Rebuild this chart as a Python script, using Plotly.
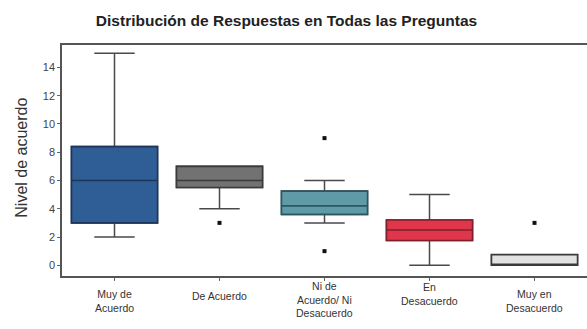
import plotly.graph_objects as go

# Response categories and precomputed box statistics
categories = ["Muy de Acuerdo", "De Acuerdo", "Ni de Acuerdo/ Ni Desacuerdo",
              "En Desacuerdo", "Muy en Desacuerdo"]
tick_text = ["Muy de<br>Acuerdo", "De Acuerdo", "Ni de<br>Acuerdo/ Ni<br>Desacuerdo",
             "En<br>Desacuerdo", "Muy en<br>Desacuerdo"]
lower_fence = [2, 4, 3, 0, 0]
q1 = [3, 5.5, 3.6, 1.75, 0]
median = [6, 6, 4.2, 2.5, 0]
q3 = [8.4, 7, 5.25, 3.2, 0.75]
upper_fence = [15, 7, 6, 5, 0.75]

# Outlying responses per category
outlier_cat = ["De Acuerdo", "Ni de Acuerdo/ Ni Desacuerdo",
               "Ni de Acuerdo/ Ni Desacuerdo", "Muy en Desacuerdo"]
outlier_val = [3, 9, 1, 3]

fill_colors = ["#2f5e96", "#727272", "#5e9ba7", "#e0364c", "#e2e2e2"]
line_colors = ["#1c3558", "#3a3a3a", "#2c5660", "#7e1f2a", "#3a3a3a"]
whisker_color = "#4a4a4a"

# Vertical centre (px from top) of each category label
label_y_px = [301, 296, 299, 294, 301]

W, H = 587, 329
L, R, T, B = 62, 0, 45, 53

fig = go.Figure()
for i, cat in enumerate(categories):
    # full box with whiskers in neutral grey
    fig.add_trace(go.Box(
        x=[cat], q1=[q1[i]], median=[median[i]], q3=[q3[i]],
        lowerfence=[lower_fence[i]], upperfence=[upper_fence[i]],
        boxpoints=False, width=0.82, whiskerwidth=0.47,
        fillcolor=fill_colors[i],
        line=dict(color=whisker_color, width=1.5),
        showlegend=False, hoverinfo="skip",
    ))
    # box body redrawn with its own darker outline and median
    fig.add_trace(go.Box(
        x=[cat], q1=[q1[i]], median=[median[i]], q3=[q3[i]],
        lowerfence=[q1[i]], upperfence=[q3[i]],
        boxpoints=False, width=0.82, whiskerwidth=0,
        fillcolor=fill_colors[i],
        line=dict(color=line_colors[i], width=1.6),
        showlegend=False, hoverinfo="skip",
    ))

fig.add_trace(go.Scatter(
    x=outlier_cat, y=outlier_val, mode="markers",
    marker=dict(color="#111111", size=4, symbol="square"),
    showlegend=False, hoverinfo="skip",
))

fig.update_layout(boxmode="overlay")

plot_h = H - T - B
annotations = []
for i, cat in enumerate(categories):
    annotations.append(dict(
        x=cat, xref="x", y=(H - B - label_y_px[i]) / plot_h, yref="paper",
        text=tick_text[i], showarrow=False, xanchor="center", yanchor="middle",
        font=dict(size=10.5, color="#333333"), align="center",
    ))

annotations.append(dict(
    x=(21.5 - L) / (W - L - R), xref="paper", y=0.51, yref="paper",
    text="Nivel de acuerdo", textangle=-90, showarrow=False,
    xanchor="center", yanchor="middle",
    font=dict(size=16, color="#333333"),
))

fig.update_layout(
    width=W, height=H,
    margin=dict(l=L, r=R, t=T, b=B),
    paper_bgcolor="white", plot_bgcolor="white",
    font=dict(family="Liberation Sans, Arial, sans-serif"),
    title=dict(
        text="<b>Distribución de Respuestas en Todas las Preguntas</b>",
        x=286.5 / W, xanchor="center", y=1 - 21 / H, yanchor="middle",
        font=dict(size=15.5, color="#222222"),
    ),
    annotations=annotations,
    xaxis=dict(
        type="category", categoryorder="array", categoryarray=categories,
        range=[-0.5, 4.5], showticklabels=False,
        ticks="outside", ticklen=3, tickcolor="#666666",
        showline=True, linecolor="#555555", linewidth=1.5, mirror=True,
        showgrid=False, zeroline=False,
    ),
    yaxis=dict(
        range=[-0.76, 15.59], tickvals=[0, 2, 4, 6, 8, 10, 12, 14],
        ticks="outside", ticklen=3, tickcolor="#666666",
        tickfont=dict(size=11, color="#444444"),
        showline=True, linecolor="#555555", linewidth=1.5, mirror=False,
        showgrid=False, zeroline=False,
    ),
)

fig.write_html("out.html")
